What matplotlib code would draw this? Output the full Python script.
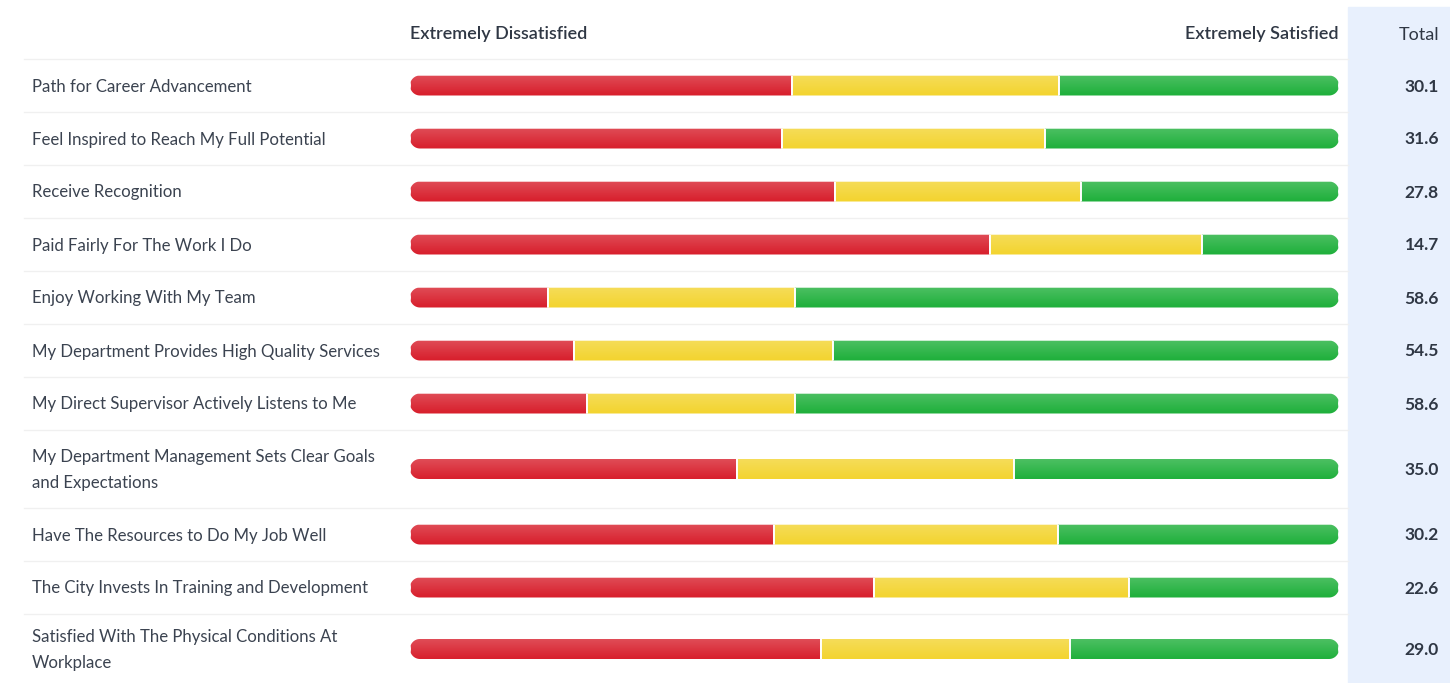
import numpy as np
import matplotlib
matplotlib.use("Agg")
from matplotlib import pyplot as plt
from matplotlib.patches import Polygon, Rectangle

#   Survey data (percent of responses)
questions = [
    "Path for Career Advancement",
    "Feel Inspired to Reach My Full Potential",
    "Receive Recognition",
    "Paid Fairly For The Work I Do",
    "Enjoy Working With My Team",
    "My Department Provides High Quality Services",
    "My Direct Supervisor Actively Listens to Me",
    "My Department Management Sets Clear Goals\nand Expectations",
    "Have The Resources to Do My Job Well",
    "The City Invests In Training and Development",
    "Satisfied With The Physical Conditions At\nWorkplace",
]
dissatisfied = [41.1, 40.0, 45.8, 62.4, 14.9, 17.7, 19.1, 35.2, 39.2, 49.9, 44.2]
neutral = [28.8, 28.4, 26.4, 22.9, 26.5, 27.8, 22.3, 29.8, 30.6, 27.5, 26.8]
satisfied = [30.1, 31.6, 27.8, 14.7, 58.6, 54.5, 58.6, 35.0, 30.2, 22.6, 29.0]
totals = ["30.1", "31.6", "27.8", "14.7", "58.6", "54.5", "58.6", "35.0", "30.2", "22.6", "29.0"]

colors = ["#d8202d", "#f3d430", "#20b03c"]
text_col = "#3b4350"
head_col = "#2f3744"
plt.rcParams['font.family'] = ['Lato', 'DejaVu Sans']

W, H = 1450, 683
fig = plt.figure(figsize=(W / 100, H / 100), dpi=100)

#   layout axes in pixel units
base = fig.add_axes([0, 0, 1, 1])
base.set_xlim(0, W)
base.set_ylim(H, 0)
base.axis("off")

#   bar axes, x in percent
bx0, bx1 = 410, 1339
ax = fig.add_axes([bx0 / W, 0, (bx1 - bx0) / W, 1])
ax.set_xlim(0, 100)
ax.set_ylim(H, 0)
ax.axis("off")

#   total column background
base.add_patch(Rectangle((1348, 7), W - 1348, H - 7, color="#e8f0fd", zorder=0))

#   row geometry
heights = [53 if "\n" not in q else 78 for q in questions]
heights[-1] = 70
top = 59
edges = [top]
for h in heights:
    edges.append(edges[-1] + h)
centers = [(edges[i] + edges[i + 1]) / 2 for i in range(len(questions))]

for e in edges[:-1]:
    base.plot([24, 1348], [e, e], color="#f0f0f0", lw=1, zorder=1)

#   header
base.text(410, 33, "Extremely Dissatisfied", fontsize=13, fontweight="semibold",
          color=head_col, va="center_baseline", ha="left")
base.text(1339, 33, "Extremely Satisfied", fontsize=13, fontweight="semibold",
          color=head_col, va="center_baseline", ha="right")
base.text(1439, 33, "Total", fontsize=13, color=head_col,
          va="center_baseline", ha="right")


def pill(yc, r):
    #   capsule outline in pixel space (true half circles at both ends)
    t = np.linspace(np.pi / 2, 3 * np.pi / 2, 40)
    left = np.column_stack([bx0 + r + r * np.cos(t), yc - r * np.sin(t)])
    t2 = np.linspace(-np.pi / 2, np.pi / 2, 40)
    right = np.column_stack([bx1 - r + r * np.cos(t2), yc - r * np.sin(t2)])
    return np.vstack([left, right])


bar_h = 20
grad = np.linspace(0.2, 0.0, 50).reshape(-1, 1)
white = np.ones((50, 1, 4))
white[:, :, 3] = grad

for i, q in enumerate(questions):
    yc = centers[i]
    clip = Polygon(pill(yc, bar_h / 2), closed=True, transform=base.transData,
                   facecolor="none", edgecolor="none")
    base.add_patch(clip)
    left = 0
    for val, c in zip([dissatisfied[i], neutral[i], satisfied[i]], colors):
        bars = ax.barh(yc, val, left=left, height=bar_h + 2, color=c,
                       edgecolor="white", linewidth=1.4, zorder=2)
        bars[0].set_clip_path(clip)
        left += val
    im = ax.imshow(white, extent=(0, 100, yc + bar_h / 2, yc - bar_h / 2),
                   aspect="auto", zorder=3, interpolation="bilinear")
    im.set_clip_path(clip)

    base.text(32, yc + 1, q, fontsize=12.1, color=text_col,
              va="center", ha="left", linespacing=1.75)
    base.text(1439, yc + 1, totals[i], fontsize=12.5, fontweight="bold",
              color=head_col, va="center", ha="right")

ax.set_ylim(H, 0)
fig.savefig("out.png", dpi=100)
